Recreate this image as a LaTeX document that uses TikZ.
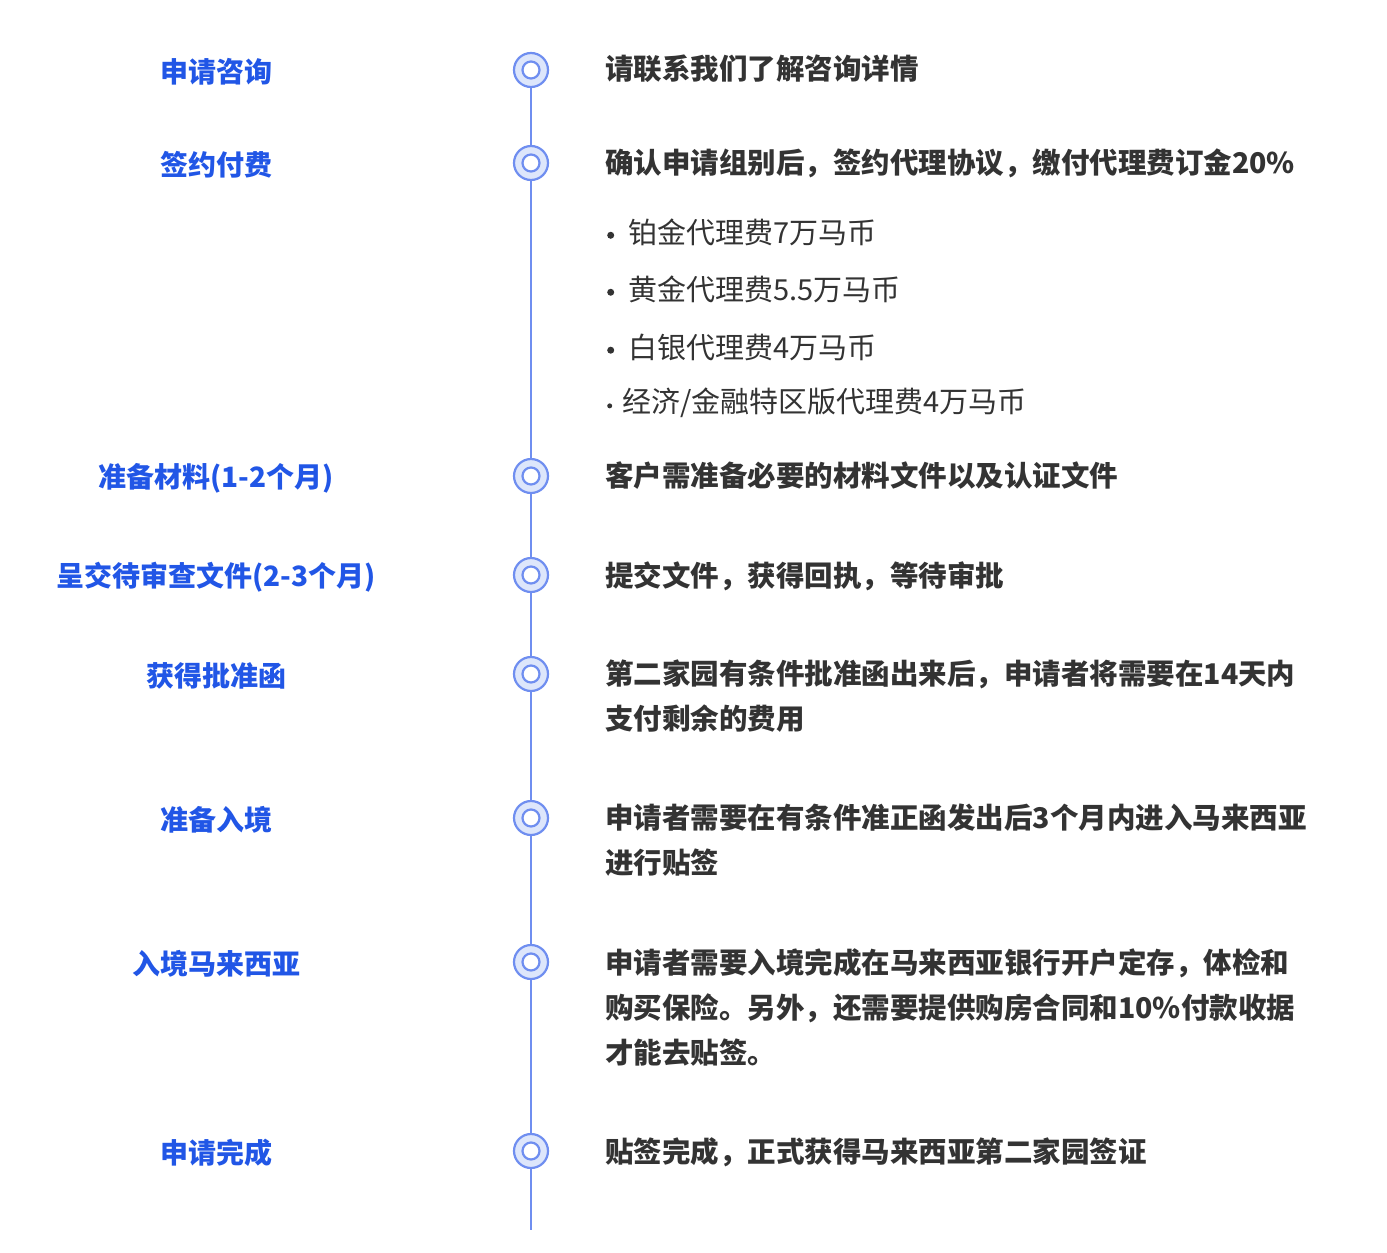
\documentclass[tikz,border=0pt]{standalone}
\usepackage{fontspec}
\setmainfont{Noto Sans CJK SC}
\definecolor{lab}{HTML}{2156E6}
\definecolor{txt}{HTML}{333333}
\definecolor{ln}{HTML}{6F8EF0}
\definecolor{cf}{HTML}{DDE6FB}
\tikzset{
 lbl/.style={font=\fontsize{28}{32}\selectfont\bfseries, text=lab, anchor=center},
 desc/.style={font=\fontsize{28.5}{45}\selectfont\bfseries, text=txt, anchor=north west, align=left, inner sep=0},
 bul/.style={font=\fontsize{29}{32}\selectfont, text=txt, anchor=west, inner sep=0},
 ring/.style={circle, draw=ln, line width=2.2pt, fill=cf, minimum size=34pt, inner sep=0},
 hole/.style={circle, draw=ln, line width=2.2pt, fill=white, minimum size=17pt, inner sep=0},
}
\newcommand{\bdot}{\raisebox{0.15em}{\tikz\fill[txt] circle (3.5pt);}}
\begin{document}
\begin{tikzpicture}[x=1pt,y=-1pt]
\useasboundingbox (0,0) rectangle (1387,1253);
\coordinate (top) at (531,52);
\coordinate (bot) at (531,1230);
\draw[ln, line width=2pt] (top) -- (bot);
\foreach \n/\y/\l in {a/70/申请咨询, b/163/签约付费, c/476/准备材料(1-2个月), d/575/呈交待审查文件(2-3个月), e/674/获得批准函, f/818/准备入境, g/962/入境马来西亚, h/1151/申请完成}{
  \node[ring] (m\n) at (531,\y) {};
  \node[hole] at (m\n) {};
  \node[lbl] (l\n) at (216,\y+2) {\l};
}
\node[desc] (da) at (605,55) {请联系我们了解咨询详情};
\node[desc] (db) at (605,149) {确认申请组别后，签约代理协议，缴付代理费订金20\%};
\node[desc] (dc) at (605,462) {客户需准备必要的材料文件以及认证文件};
\node[desc] (dd) at (605,561) {提交文件，获得回执，等待审批};
\node[desc] (de) at (605,660) {第二家园有条件批准函出来后，申请者将需要在14天内\\支付剩余的费用};
\node[desc] (df) at (605,804) {申请者需要在有条件准正函发出后3个月内进入马来西亚\\进行贴签};
\node[desc] (dg) at (605,948) {申请者需要入境完成在马来西亚银行开户定存，体检和\\购买保险。另外，还需要提供购房合同和10\%付款收据\\才能去贴签。};
\node[desc] (dh) at (605,1137) {贴签完成，正式获得马来西亚第二家园签证};
\node[bul] (b1) at (607,232) {\bdot\hspace{14pt}铂金代理费7万马币};
\node[bul] (b2) at (607,289) {\bdot\hspace{14pt}黄金代理费5.5万马币};
\node[bul] (b3) at (607,347) {\bdot\hspace{14pt}白银代理费4万马币};
\node[bul] (b4) at (607,403) {\raisebox{0.15em}{\tikz\fill[txt] circle (2.5pt);}\hspace{10pt}经济/金融特区版代理费4万马币};
\end{tikzpicture}
\end{document}
